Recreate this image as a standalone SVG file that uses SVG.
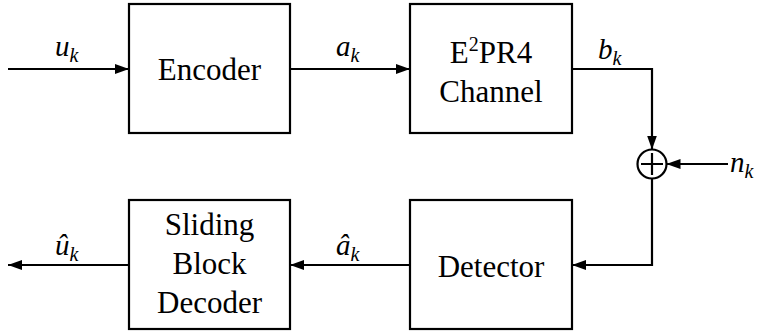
<svg xmlns="http://www.w3.org/2000/svg" width="762" height="333" viewBox="0 0 762 333">
  <defs>
    <marker id="arrow" viewBox="0 0 14 10" refX="14" refY="5" markerWidth="14" markerHeight="10" markerUnits="userSpaceOnUse" orient="auto">
      <path d="M0,0 L14,5 L0,10 Z" fill="#000"/>
    </marker>
  </defs>
  <style>
    rect.block { fill: #fff; stroke: #000; stroke-width: 2.2; }
    .wire { fill: none; stroke: #000; stroke-width: 2.2; }
    text { font-family: "Liberation Serif", "Times New Roman", serif; fill: #000; }
    text.lbl { font-size: 31px; text-anchor: middle; }
    text.math { font-style: italic; font-size: 29px; }
    .sub { font-size: 20px; }
  </style>
  <rect width="762" height="333" fill="#fff"/>

  <!-- forward path -->
  <g id="encoder">
    <rect class="block" x="129" y="4" width="161" height="129"/>
    <text class="lbl" x="209.5" y="80">Encoder</text>
  </g>
  <g id="channel">
    <rect class="block" x="410" y="4" width="162" height="129"/>
    <text class="lbl" x="491" y="63">E<tspan font-size="20" dy="-12">2</tspan><tspan dy="12">PR4</tspan></text>
    <text class="lbl" x="491" y="102">Channel</text>
  </g>
  <g id="adder">
    <circle cx="652" cy="164" r="14.5" fill="#fff" stroke="#000" stroke-width="2.2"/>
    <path d="M652,153 V175 M641,164 H663" stroke="#000" stroke-width="2.2"/>
  </g>

  <!-- return path -->
  <g id="detector">
    <rect class="block" x="410" y="200" width="162" height="129"/>
    <text class="lbl" x="491" y="277">Detector</text>
  </g>
  <g id="decoder">
    <rect class="block" x="129" y="200" width="161" height="129"/>
    <text class="lbl" x="209.5" y="235">Sliding</text>
    <text class="lbl" x="209.5" y="274">Block</text>
    <text class="lbl" x="209.5" y="313">Decoder</text>
  </g>

  <g id="connectors">
    <path class="wire" d="M8,69 H129" marker-end="url(#arrow)"/>
    <path class="wire" d="M290,69 H410" marker-end="url(#arrow)"/>
    <path class="wire" d="M572,69 H652 V149.5" marker-end="url(#arrow)"/>
    <path class="wire" d="M728,164 H666.5" marker-end="url(#arrow)"/>
    <path class="wire" d="M652,178.5 V265 H572" marker-end="url(#arrow)"/>
    <path class="wire" d="M410,265 H290" marker-end="url(#arrow)"/>
    <path class="wire" d="M129,265 H8" marker-end="url(#arrow)"/>
  </g>

  <!-- signal names -->
  <g id="labels">
    <text class="math" x="55" y="56">u<tspan class="sub" dy="6">k</tspan></text>
    <text class="math" x="336" y="56">a<tspan class="sub" dy="6">k</tspan></text>
    <text class="math" x="598" y="59">b<tspan class="sub" dy="6">k</tspan></text>
    <text class="math" x="730" y="172">n<tspan class="sub" dy="6">k</tspan></text>
    <text class="math" x="336" y="255">â<tspan class="sub" dy="6">k</tspan></text>
    <text class="math" x="55" y="255">û<tspan class="sub" dy="6">k</tspan></text>
  </g>
</svg>
